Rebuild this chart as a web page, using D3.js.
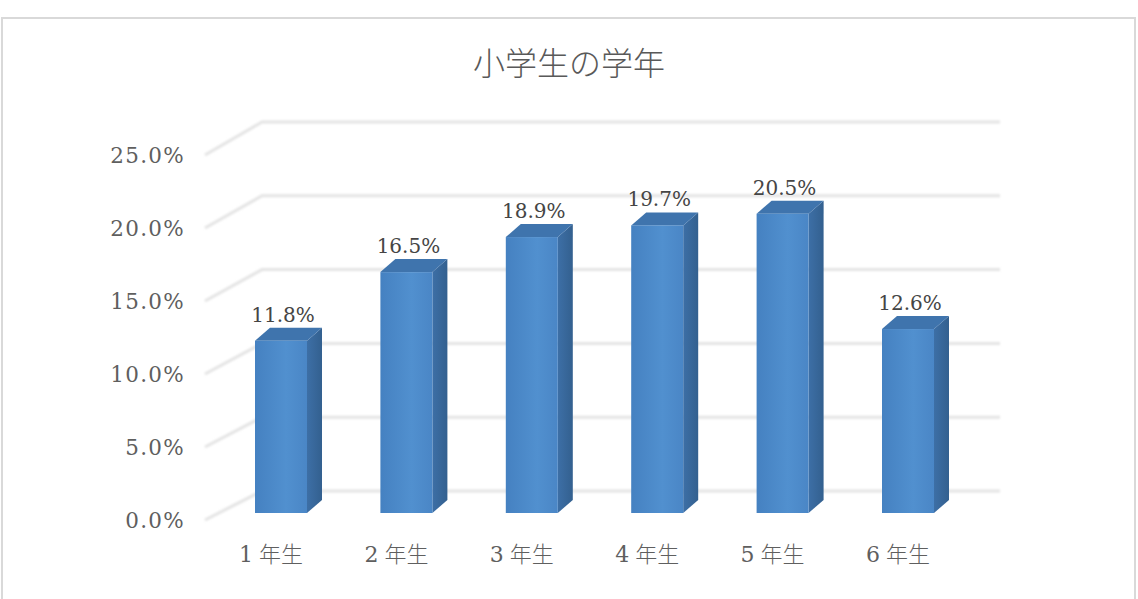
<!DOCTYPE html>
<html><head><meta charset="utf-8">
<script src="https://cdn.jsdelivr.net/npm/d3@7"></script>
<style>
html,body{margin:0;padding:0;background:#fff;}
svg{display:block;}
</style></head>
<body>
<svg id="c" width="1138" height="599"></svg>
<script>
const title = "小学生の学年";
const categories = ["1年生","2年生","3年生","4年生","5年生","6年生"];
const values = [11.8, 16.5, 18.9, 19.7, 20.5, 12.6];
const yTicks = [0, 5, 10, 15, 20, 25];
const yTickLabels = ["0.0%","5.0%","10.0%","15.0%","20.0%","25.0%"];

const svg = d3.select("#c");
const defs = svg.append("defs");
const fg = defs.append("linearGradient").attr("id","front").attr("x1","0").attr("x2","1").attr("y1","0").attr("y2","0");
fg.append("stop").attr("offset","0").attr("stop-color","#4581c1");
fg.append("stop").attr("offset","0.6").attr("stop-color","#5190cf");
fg.append("stop").attr("offset","1").attr("stop-color","#4a86c6");
const sg = defs.append("linearGradient").attr("id","side").attr("x1","0").attr("x2","1").attr("y1","0").attr("y2","0");
sg.append("stop").attr("offset","0").attr("stop-color","#3d6fa6");
sg.append("stop").attr("offset","1").attr("stop-color","#33608f");
const blur = defs.append("filter").attr("id","soft").attr("x","-5%").attr("y","-50%").attr("width","110%").attr("height","200%");
blur.append("feGaussianBlur").attr("stdDeviation","0.9");

// border
svg.append("rect").attr("x",2).attr("y",18).attr("width",1133).attr("height",600)
  .attr("fill","#fff").attr("stroke","#d9d9d9").attr("stroke-width",2);

// title
svg.append("text").attr("x",569).attr("y",75).attr("text-anchor","middle")
  .attr("font-family","'Noto Sans CJK JP'").attr("font-weight",300).attr("font-size",32)
  .attr("fill","#595959").text(title);

const yBack = d3.scaleLinear().domain([0,25]).range([491,122]);
const yFront = d3.scaleLinear().domain([0,25]).range([520,155]);
const yBar = d3.scaleLinear().domain([0,25]).range([513,148]);
const x = d3.scalePoint().domain(categories).range([281,908]);
const backL = 262, backR = 1000, frontL = 205;
const barW = 52, depX = 15, depY = 13;

// gridlines
const grid = svg.append("g").attr("filter","url(#soft)");
yTicks.forEach(t=>{
  grid.append("path")
    .attr("d", `M${frontL},${yFront(t)}L${backL},${yBack(t)}L${backR},${yBack(t)}`)
    .attr("fill","none").attr("stroke","#e4e4e4").attr("stroke-width",3);
});

// y axis labels
svg.append("g").selectAll("text").data(yTicks).join("text")
  .attr("x",185).attr("y",(d)=>yFront(d)+8).attr("text-anchor","end")
  .attr("font-family","'DejaVu Serif'").attr("font-size",21.5).attr("letter-spacing",1.3).attr("fill","#5f5f5f")
  .text((d,i)=>yTickLabels[i]);

// bars
const bars = svg.append("g").selectAll("g").data(values).join("g");
bars.each(function(v,i){
  const g = d3.select(this);
  const cx = x(categories[i]);
  const l = cx - barW/2, r = cx + barW/2;
  const top = yBar(v), bot = yBar(0);
  g.append("path").attr("d",`M${r},${top}L${r+depX},${top-depY}L${r+depX},${bot-depY}L${r},${bot}Z`)
    .attr("fill","url(#side)");
  g.append("path").attr("d",`M${l},${top}L${l+depX},${top-depY}L${r+depX},${top-depY}L${r},${top}Z`)
    .attr("fill","#3f74ad");
  g.append("rect").attr("x",l).attr("y",top).attr("width",barW).attr("height",bot-top)
    .attr("fill","url(#front)");
});

// data labels
svg.append("g").selectAll("text").data(values).join("text")
  .attr("x",(d,i)=>x(categories[i])+2).attr("y",d=>yBar(d)-19).attr("text-anchor","middle")
  .attr("font-family","'DejaVu Serif'").attr("font-size",20).attr("fill","#454545")
  .text(d=>d.toFixed(1)+"%");

// category labels: digit, small gap, kanji
const cl = svg.append("g").selectAll("text").data(categories).join("text")
  .attr("x",d=>x(d)-10).attr("y",562).attr("text-anchor","middle")
  .attr("font-family","'DejaVu Serif','Noto Sans CJK JP'").attr("font-size",22).attr("fill","#5f5f5f");
cl.append("tspan").text(d=>d.slice(0,1));
cl.append("tspan").attr("dx",6).attr("font-family","'Noto Sans CJK JP'").attr("font-weight",300).text(d=>d.slice(1));
</script>
</body></html>
